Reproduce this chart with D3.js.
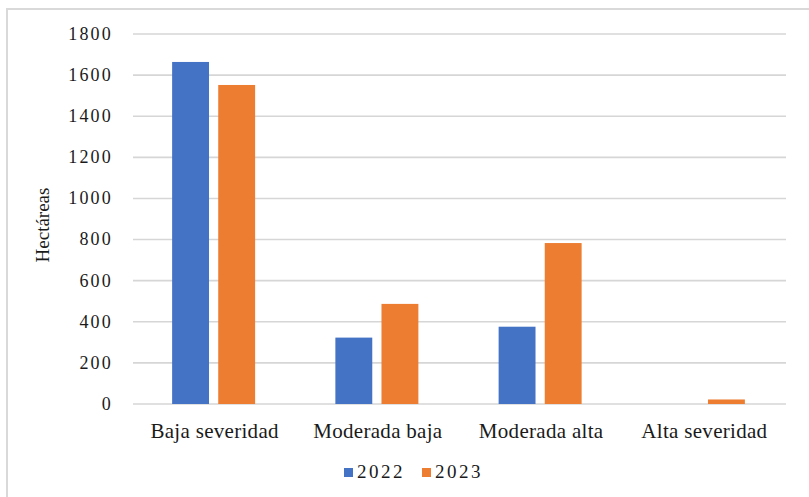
<!DOCTYPE html>
<html>
<head>
<meta charset="utf-8">
<script src="https://cdn.jsdelivr.net/npm/d3@7"></script>
<style>
  body { margin: 0; background: #fff; }
  text { font-family: "Liberation Serif", "DejaVu Serif", serif; fill: #1a1a1a; }
</style>
</head>
<body>
<div id="chart"></div>
<script>
var categories = ["Baja severidad", "Moderada baja", "Moderada alta", "Alta severidad"];
var years = ["2022", "2023"];
var values2022 = [1664, 323, 376, 0];
var values2023 = [1552, 487, 783, 22];
var yTicks = [0, 200, 400, 600, 800, 1000, 1200, 1400, 1600, 1800];
var colors = ["#4472C4", "#ED7D31"];

var svgWidth = 809;
var svgHeight = 497;
var margin = { top: 34, right: 23, bottom: 93, left: 133 };
var width = svgWidth - margin.left - margin.right;
var height = svgHeight - margin.top - margin.bottom;

var svg = d3.select("#chart").append("svg")
  .attr("width", svgWidth)
  .attr("height", svgHeight);

// outer frame
svg.append("rect")
  .attr("x", 7).attr("y", 9)
  .attr("width", 820).attr("height", 500)
  .attr("fill", "none")
  .attr("stroke", "#d9d9d9")
  .attr("stroke-width", 2);

var chart = svg.append("g")
  .attr("transform", `translate(${margin.left}, ${margin.top})`);

var x0 = d3.scaleBand().domain(categories).range([0, width]);
var x1 = d3.scaleBand().domain(years).range([0, 83]).paddingInner(0.2);
var y = d3.scaleLinear().domain([0, 1800]).range([height, 0]);

// gridlines
chart.append("g")
  .selectAll("line")
  .data(yTicks)
  .enter()
  .append("line")
  .attr("x1", 0)
  .attr("x2", width)
  .attr("y1", d => y(d))
  .attr("y2", d => y(d))
  .attr("stroke", "#d6d6d6")
  .attr("stroke-width", 1.6);

// y tick labels
chart.append("g")
  .selectAll("text")
  .data(yTicks)
  .enter()
  .append("text")
  .attr("x", -20)
  .attr("y", d => y(d))
  .attr("dy", "0.33em")
  .attr("text-anchor", "end")
  .attr("font-size", 18)
  .attr("letter-spacing", 2.2)
  .text(d => d);

var series = [values2022, values2023];
var groups = chart.selectAll(".cat")
  .data(categories)
  .enter()
  .append("g")
  .attr("transform", d => `translate(${x0(d) + x0.bandwidth() / 2 - 42.5}, 0)`);

groups.selectAll("rect")
  .data((d, i) => years.map((yr, j) => ({ year: yr, value: series[j][i], color: colors[j] })))
  .enter()
  .append("rect")
  .attr("x", d => x1(d.year))
  .attr("width", x1.bandwidth())
  .attr("y", d => y(d.value))
  .attr("height", d => height - y(d.value))
  .attr("fill", d => d.color);

// category labels
chart.append("g")
  .selectAll("text")
  .data(categories)
  .enter()
  .append("text")
  .attr("x", d => x0(d) + x0.bandwidth() / 2)
  .attr("y", height + 34)
  .attr("text-anchor", "middle")
  .attr("font-size", 21)
  .attr("letter-spacing", 0.3)
  .text(d => d);

// y axis title
svg.append("text")
  .attr("transform", "translate(49, 225) rotate(-90)")
  .attr("text-anchor", "middle")
  .attr("font-size", 19)
  .text("Hectáreas");

// legend
var legend = svg.append("g").attr("transform", "translate(344, 468)");
years.forEach(function(yr, i) {
  var item = legend.append("g").attr("transform", `translate(${i * 78}, 0)`);
  item.append("rect")
    .attr("width", 9).attr("height", 9)
    .attr("fill", colors[i]);
  item.append("text")
    .attr("x", 13)
    .attr("y", 10)
    .attr("font-size", 19)
    .attr("letter-spacing", 2.5)
    .text(yr);
});
</script>
</body>
</html>
